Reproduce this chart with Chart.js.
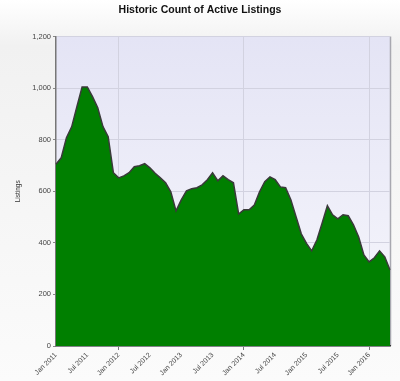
<!DOCTYPE html>
<html>
<head>
<meta charset="utf-8">
<script src="https://cdn.jsdelivr.net/npm/chart.js@4"></script>
<style>
  html, body { margin: 0; padding: 0; background: #fff; }
  #wrap { width: 400px; height: 381px; position: relative; }
</style>
</head>
<body>
<div id="wrap"><canvas id="listingsChart"></canvas></div>
<script>
// Monthly categories, Jan 2011 .. May 2016
const startYear = 2011;
const monthNames = ['Jan','Feb','Mar','Apr','May','Jun','Jul','Aug','Sep','Oct','Nov','Dec'];
const months = [];
for (let i = 0; i < 65; i++) {
  months.push(monthNames[i % 12] + ' ' + (startYear + Math.floor(i / 12)));
}

// Active listings
const listings = [
  705, 730, 808, 850, 928, 1005, 1005, 967, 924, 851, 812, 672,
  652, 660, 672, 695, 699, 707, 691, 670, 652, 633, 598, 524,
  567, 602, 610, 614, 625, 645, 672, 641, 660, 645, 633, 512,
  528, 528, 547, 598, 637, 656, 645, 617, 614, 567, 501, 435,
  398, 369, 412, 477, 544, 509, 493, 509, 505, 470, 423, 353,
  326, 342, 369, 346, 295
];

const yTicks = { min: 0, max: 1200, step: 200 };

// Backgrounds: page gradient + lavender plot area
const backdrop = {
  id: 'backdrop',
  beforeDraw(chart) {
    const { ctx, width, height, chartArea: a } = chart;
    ctx.save();
    let g = ctx.createLinearGradient(0, 0, 0, height);
    g.addColorStop(0, '#ffffff');
    g.addColorStop(0.12, '#f1f1f1');
    g.addColorStop(1, '#fbfbfb');
    ctx.fillStyle = g;
    ctx.fillRect(0, 0, width, height);

    g = ctx.createLinearGradient(0, a.top, 0, a.bottom);
    g.addColorStop(0, '#e4e4f5');
    g.addColorStop(1, '#f7f7fc');
    ctx.fillStyle = g;
    ctx.fillRect(a.left, a.top, a.right - a.left, a.bottom - a.top);

    // soft right edge
    ctx.strokeStyle = '#a8a8b0';
    ctx.lineWidth = 1.5;
    ctx.beginPath();
    ctx.moveTo(a.right + 0.5, a.top);
    ctx.lineTo(a.right + 0.5, a.bottom);
    ctx.stroke();
    ctx.restore();
  }
};

new Chart(document.getElementById('listingsChart'), {
  type: 'line',
  data: {
    labels: months,
    datasets: [{
      label: 'Listings',
      data: listings,
      backgroundColor: '#007f00',
      borderColor: '#3a3a3a',
      borderWidth: 1.5,
      fill: 'origin',
      tension: 0,
      pointRadius: 0
    }]
  },
  options: {
    responsive: true,
    maintainAspectRatio: false,
    animation: false,
    layout: { padding: { left: 10, right: 10, top: 0, bottom: 0 } },
    plugins: {
      legend: { display: false },
      tooltip: { enabled: false },
      title: {
        display: true,
        text: 'Historic Count of Active Listings',
        color: '#111',
        font: { family: 'Liberation Sans, Arial, sans-serif', size: 10.5, weight: 'bold' },
        padding: { top: 4, bottom: 20 }
      }
    },
    scales: {
      x: {
        offset: false,
        grid: {
          color: c => (c.index % 24 === 12 ? '#d2d2e0' : 'rgba(0,0,0,0)'),
          tickColor: c => (c.index % 24 === 12 ? '#777' : 'rgba(0,0,0,0)'),
          tickLength: 4
        },
        border: { color: '#333', width: 1.5 },
        ticks: {
          autoSkip: false,
          minRotation: 45,
          maxRotation: 45,
          padding: 1,
          color: '#444',
          font: { family: 'Liberation Sans, Arial, sans-serif', size: 7 },
          callback: (v, i) => (i % 6 === 0 ? months[i] : '')
        },
        afterFit: s => { s.height = 35; }
      },
      y: {
        min: yTicks.min,
        max: yTicks.max,
        grid: { color: '#d2d2e0', tickColor: '#888', tickLength: 3 },
        border: { color: '#777', width: 1.5 },
        ticks: {
          stepSize: yTicks.step,
          padding: 2,
          color: '#444',
          font: { family: 'Liberation Sans, Arial, sans-serif', size: 7.5 }
        },
        title: {
          display: true,
          text: 'Listings',
          color: '#333',
          font: { family: 'Liberation Sans, Arial, sans-serif', size: 6.5 },
          padding: { top: 4, bottom: 0 }
        },
        afterFit: s => { s.width = 46; }
      }
    }
  },
  plugins: [backdrop]
});
</script>
</body>
</html>
